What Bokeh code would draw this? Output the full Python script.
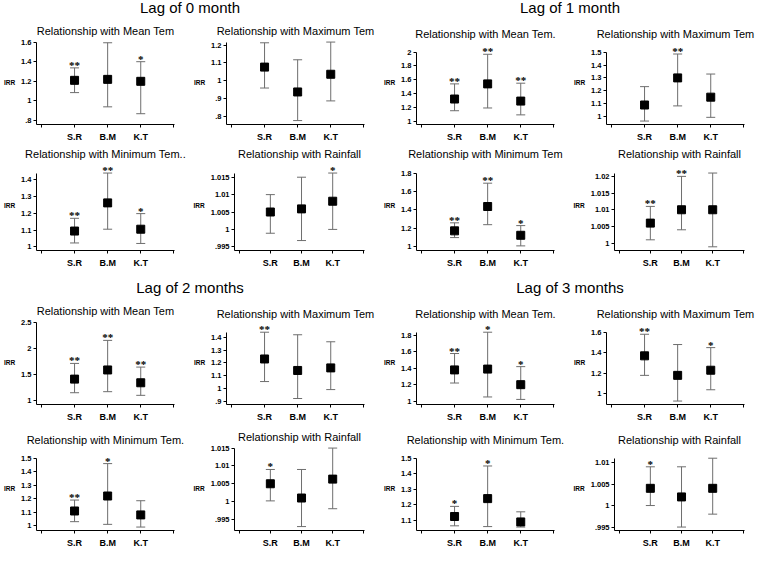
from bokeh.plotting import figure
from bokeh.layouts import column, row
from bokeh.models import (Div, FixedTicker, Whisker, ColumnDataSource, Range1d,
                          LabelSet, TeeHead)
from bokeh.embed import file_html
from bokeh.resources import INLINE

sites = ["S.R", "B.M", "K.T"]

# ---------------- Lag 0 ----------------
lag0_mean_irr = [1.21, 1.22, 1.20]
lag0_mean_lo = [1.085, 0.94, 0.87]
lag0_mean_hi = [1.337, 1.593, 1.40]
lag0_mean_sig = ["**", "", "*"]
lag0_mean_ticks = [0.8, 1.0, 1.2, 1.4, 1.6]
lag0_mean_labels = [".8", "1", "1.2", "1.4", "1.6"]

lag0_max_irr = [1.077, 0.938, 1.037]
lag0_max_lo = [0.96, 0.778, 0.888]
lag0_max_hi = [1.213, 1.118, 1.217]
lag0_max_sig = ["", "", ""]
lag0_max_ticks = [0.8, 0.9, 1.0, 1.1, 1.2]
lag0_max_labels = [".8", ".9", "1", "1.1", "1.2"]

lag0_min_irr = [1.094, 1.262, 1.105]
lag0_min_lo = [1.023, 1.105, 1.02]
lag0_min_hi = [1.17, 1.44, 1.198]
lag0_min_sig = ["**", "**", "*"]
lag0_min_ticks = [1.0, 1.1, 1.2, 1.3, 1.4]
lag0_min_labels = ["1", "1.1", "1.2", "1.3", "1.4"]

lag0_rain_irr = [1.005, 1.0059, 1.0081]
lag0_rain_lo = [0.9989, 0.9968, 1.000]
lag0_rain_hi = [1.010, 1.015, 1.0162]
lag0_rain_sig = ["", "", "*"]
lag0_rain_ticks = [0.995, 1.0, 1.005, 1.01, 1.015]
lag0_rain_labels = [".995", "1", "1.005", "1.01", "1.015"]

# ---------------- Lag 1 ----------------
lag1_mean_irr = [1.32, 1.54, 1.29]
lag1_mean_lo = [1.15, 1.19, 1.09]
lag1_mean_hi = [1.54, 1.97, 1.55]
lag1_mean_sig = ["**", "**", "**"]
lag1_mean_ticks = [1.0, 1.2, 1.4, 1.6, 1.8, 2.0]
lag1_mean_labels = ["1", "1.2", "1.4", "1.6", "1.8", "2"]

lag1_max_irr = [1.089, 1.30, 1.15]
lag1_max_lo = [0.964, 1.082, 0.993]
lag1_max_hi = [1.232, 1.486, 1.33]
lag1_max_sig = ["", "**", ""]
lag1_max_ticks = [1.0, 1.1, 1.2, 1.3, 1.4, 1.5]
lag1_max_labels = ["1", "1.1", "1.2", "1.3", "1.4", "1.5"]

lag1_min_irr = [1.173, 1.437, 1.125]
lag1_min_lo = [1.10, 1.24, 1.01]
lag1_min_hi = [1.26, 1.69, 1.23]
lag1_min_sig = ["**", "**", "*"]
lag1_min_ticks = [1.0, 1.2, 1.4, 1.6, 1.8]
lag1_min_labels = ["1", "1.2", "1.4", "1.6", "1.8"]

lag1_rain_irr = [1.006, 1.010, 1.010]
lag1_rain_lo = [1.001, 1.004, 0.9989]
lag1_rain_hi = [1.011, 1.020, 1.021]
lag1_rain_sig = ["**", "**", ""]
lag1_rain_ticks = [1.0, 1.005, 1.01, 1.015, 1.02]
lag1_rain_labels = ["1", "1.005", "1.01", "1.015", "1.02"]

# ---------------- Lag 2 ----------------
lag2_mean_irr = [1.41, 1.585, 1.34]
lag2_mean_lo = [1.15, 1.17, 1.10]
lag2_mean_hi = [1.71, 2.15, 1.64]
lag2_mean_sig = ["**", "**", "**"]
lag2_mean_ticks = [1.0, 1.5, 2.0, 2.5]
lag2_mean_labels = ["1", "1.5", "2", "2.5"]

lag2_max_irr = [1.23, 1.14, 1.16]
lag2_max_lo = [1.053, 0.92, 0.99]
lag2_max_hi = [1.44, 1.42, 1.365]
lag2_max_sig = ["**", "", ""]
lag2_max_ticks = [0.9, 1.0, 1.1, 1.2, 1.3, 1.4]
lag2_max_labels = [".9", "1", "1.1", "1.2", "1.3", "1.4"]

lag2_min_irr = [1.109, 1.22, 1.08]
lag2_min_lo = [1.03, 1.01, 0.99]
lag2_min_hi = [1.19, 1.46, 1.185]
lag2_min_sig = ["**", "*", ""]
lag2_min_ticks = [1.0, 1.1, 1.2, 1.3, 1.4, 1.5]
lag2_min_labels = ["1", "1.1", "1.2", "1.3", "1.4", "1.5"]

lag2_rain_irr = [1.005, 1.001, 1.0063]
lag2_rain_lo = [1.0002, 0.993, 0.998]
lag2_rain_hi = [1.009, 1.009, 1.015]
lag2_rain_sig = ["*", "", ""]
lag2_rain_ticks = [0.995, 1.0, 1.005, 1.01, 1.015]
lag2_rain_labels = [".995", "1", "1.005", "1.01", "1.015"]

# ---------------- Lag 3 ----------------
lag3_mean_irr = [1.38, 1.39, 1.20]
lag3_mean_lo = [1.22, 1.05, 1.02]
lag3_mean_hi = [1.58, 1.84, 1.42]
lag3_mean_sig = ["**", "*", "*"]
lag3_mean_ticks = [1.0, 1.2, 1.4, 1.6, 1.8]
lag3_mean_labels = ["1", "1.2", "1.4", "1.6", "1.8"]

lag3_max_irr = [1.37, 1.18, 1.23]
lag3_max_lo = [1.18, 0.93, 1.04]
lag3_max_hi = [1.58, 1.48, 1.45]
lag3_max_sig = ["**", "", "*"]
lag3_max_ticks = [1.0, 1.2, 1.4, 1.6]
lag3_max_labels = ["1", "1.2", "1.4", "1.6"]

lag3_min_irr = [1.125, 1.24, 1.09]
lag3_min_lo = [1.065, 1.06, 1.057]
lag3_min_hi = [1.19, 1.45, 1.155]
lag3_min_sig = ["*", "*", ""]
lag3_min_ticks = [1.1, 1.2, 1.3, 1.4, 1.5]
lag3_min_labels = ["1.1", "1.2", "1.3", "1.4", "1.5"]

lag3_rain_irr = [1.004, 1.002, 1.004]
lag3_rain_lo = [1.000, 0.995, 0.998]
lag3_rain_hi = [1.009, 1.009, 1.011]
lag3_rain_sig = ["*", "", ""]
lag3_rain_ticks = [0.995, 1.0, 1.005, 1.01]
lag3_rain_labels = [".995", "1", "1.005", "1.01"]

FONT = "Liberation Sans"
W, H = 190, 126
BAR = "#6e6e6e"


def panel(title, irr, lo, hi, sig, ticks, labels):
    xs = [1, 2, 3]
    lo_v = min(min(lo), ticks[0])
    hi_v = max(max(hi), ticks[-1])
    span = hi_v - lo_v
    y0 = lo_v - 0.05 * span
    # leave room above for significance stars near the top
    top_star = any(s and h > hi_v - 0.2 * span for s, h in zip(sig, hi))
    y1 = hi_v + (0.17 if top_star else 0.02) * span
    p = figure(width=W, height=H, x_range=Range1d(-0.15, 4.02),
               y_range=Range1d(y0, y1), output_backend="svg",
               toolbar_location=None, min_border_left=36, min_border_right=16,
               min_border_top=4, min_border_bottom=4, background_fill_color="white",
               border_fill_color="white")
    p.outline_line_color = None
    p.xgrid.visible = False
    p.ygrid.visible = False
    p.title.text = title
    p.title.align = "center"
    p.title.text_font = FONT
    p.title.text_font_size = "11px"
    p.title.text_font_style = "normal"
    p.title.text_color = "black"
    p.title.standoff = 8 if not top_star else 2

    src = ColumnDataSource(dict(x=xs, irr=irr, lo=lo, hi=hi, sig=sig))
    wh = Whisker(source=src, base="x", upper="hi", lower="lo", dimension="height",
                 line_color=BAR, line_width=1,
                 upper_head=TeeHead(size=9, line_color=BAR, line_width=1),
                 lower_head=TeeHead(size=9, line_color=BAR, line_width=1))
    p.add_layout(wh)
    p.scatter("x", "irr", source=src, marker="square", size=8, color="black")
    stars = LabelSet(x="x", y="hi", text="sig", source=src, text_align="center",
                     text_baseline="alphabetic", y_offset=-1,
                     text_font=FONT, text_font_size="11px", text_font_style="bold",
                     text_color="black")
    p.add_layout(stars)

    p.xaxis.ticker = FixedTicker(ticks=[0, 1, 2, 3, 4])
    p.xaxis.major_label_overrides = {0: "", 1: sites[0], 2: sites[1], 3: sites[2], 4: ""}
    p.xaxis.minor_tick_line_color = None
    p.xaxis.major_tick_in = 0
    p.xaxis.major_tick_out = 3
    p.xaxis.major_label_standoff = 4
    p.xaxis.major_label_text_font = FONT
    p.xaxis.major_label_text_font_size = "9px"
    p.xaxis.major_label_text_font_style = "bold"
    p.xaxis.major_label_text_color = "black"
    p.xaxis.axis_line_color = "black"

    yax = p.yaxis[0]
    yax.bounds = (y0, hi_v)
    yax.ticker = FixedTicker(ticks=ticks)
    yax.major_label_overrides = {t: l for t, l in zip(ticks, labels)}
    yax.minor_tick_line_color = None
    yax.major_tick_in = 0
    yax.major_tick_out = 3
    yax.major_label_standoff = 2
    yax.major_label_text_font = FONT
    yax.major_label_text_font_size = "7.5px"
    yax.major_label_text_font_style = "bold"
    yax.major_label_text_color = "black"
    yax.axis_line_color = "black"
    yax.axis_label = "IRR"
    yax.axis_label_text_font = FONT
    yax.axis_label_text_font_size = "6.5px"
    yax.axis_label_text_font_style = "bold"
    yax.axis_label_text_color = "black"
    yax.axis_label_standoff = 3
    if "axis_label_orientation" in yax.properties():
        yax.axis_label_orientation = "horizontal"
    return p


def header(txt, top):
    return Div(text=txt, width=2 * W, height=18, margin=(top, 0, 0, 0),
               styles={"text-align": "center", "font-size": "15px",
                       "font-family": FONT, "color": "black", "width": f"{2*W}px",
                       "line-height": "16px"})


p00 = panel("Relationship with Mean Tem", lag0_mean_irr, lag0_mean_lo, lag0_mean_hi, lag0_mean_sig, lag0_mean_ticks, lag0_mean_labels)
p01 = panel("Relationship with Maximum Tem", lag0_max_irr, lag0_max_lo, lag0_max_hi, lag0_max_sig, lag0_max_ticks, lag0_max_labels)
p02 = panel("Relationship with Minimum Tem..", lag0_min_irr, lag0_min_lo, lag0_min_hi, lag0_min_sig, lag0_min_ticks, lag0_min_labels)
p03 = panel("Relationship with Rainfall", lag0_rain_irr, lag0_rain_lo, lag0_rain_hi, lag0_rain_sig, lag0_rain_ticks, lag0_rain_labels)

p10 = panel("Relationship with Mean Tem.", lag1_mean_irr, lag1_mean_lo, lag1_mean_hi, lag1_mean_sig, lag1_mean_ticks, lag1_mean_labels)
p11 = panel("Relationship with Maximum Tem", lag1_max_irr, lag1_max_lo, lag1_max_hi, lag1_max_sig, lag1_max_ticks, lag1_max_labels)
p12 = panel("Relationship with Minimum Tem", lag1_min_irr, lag1_min_lo, lag1_min_hi, lag1_min_sig, lag1_min_ticks, lag1_min_labels)
p13 = panel("Relationship with Rainfall", lag1_rain_irr, lag1_rain_lo, lag1_rain_hi, lag1_rain_sig, lag1_rain_ticks, lag1_rain_labels)

p20 = panel("Relationship with Mean Tem", lag2_mean_irr, lag2_mean_lo, lag2_mean_hi, lag2_mean_sig, lag2_mean_ticks, lag2_mean_labels)
p21 = panel("Relationship with Maximum Tem", lag2_max_irr, lag2_max_lo, lag2_max_hi, lag2_max_sig, lag2_max_ticks, lag2_max_labels)
p22 = panel("Relationship with Minimum Tem.", lag2_min_irr, lag2_min_lo, lag2_min_hi, lag2_min_sig, lag2_min_ticks, lag2_min_labels)
p23 = panel("Relationship with Rainfall", lag2_rain_irr, lag2_rain_lo, lag2_rain_hi, lag2_rain_sig, lag2_rain_ticks, lag2_rain_labels)

p30 = panel("Relationship with Mean Tem.", lag3_mean_irr, lag3_mean_lo, lag3_mean_hi, lag3_mean_sig, lag3_mean_ticks, lag3_mean_labels)
p31 = panel("Relationship with Maximum Tem", lag3_max_irr, lag3_max_lo, lag3_max_hi, lag3_max_sig, lag3_max_ticks, lag3_max_labels)
p32 = panel("Relationship with Minimum Tem.", lag3_min_irr, lag3_min_lo, lag3_min_hi, lag3_min_sig, lag3_min_ticks, lag3_min_labels)
p33 = panel("Relationship with Rainfall", lag3_rain_irr, lag3_rain_lo, lag3_rain_hi, lag3_rain_sig, lag3_rain_ticks, lag3_rain_labels)

layout = column(
    row(header("Lag of 0 month", 0), header("Lag of 1 month", 0)),
    row(p00, p01, p10, p11),
    row(p02, p03, p12, p13),
    row(header("Lag of 2 months", 10), header("Lag of 3 months", 10)),
    row(p20, p21, p30, p31),
    row(p22, p23, p32, p33),
)

open("out.html", "w").write(file_html(layout, INLINE))
